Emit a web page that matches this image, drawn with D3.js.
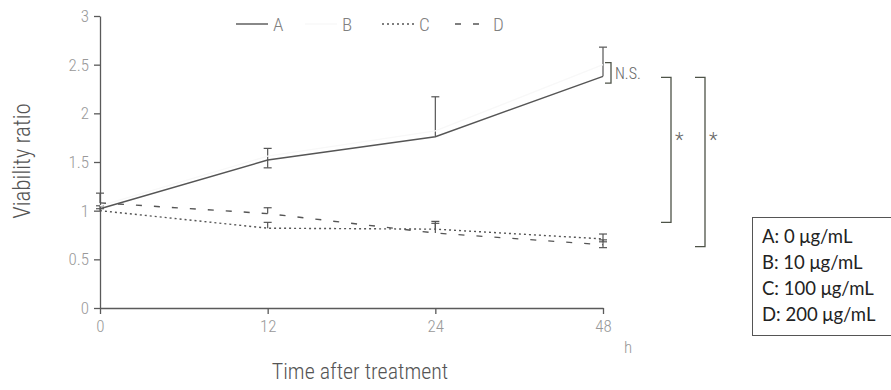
<!DOCTYPE html>
<html>
<head>
<meta charset="utf-8">
<script src="https://cdn.jsdelivr.net/npm/d3@7"></script>
<style>
  body { margin: 0; background: #fff; }
  svg { display: block; }
</style>
</head>
<body>
<div id="chart"></div>
<script>
// Time points (h) and y ticks
const timePoints = ["0", "12", "24", "48"];
const yTicks = [0, 0.5, 1, 1.5, 2, 2.5, 3];

// Series values
const seriesNames = ["A", "B", "C", "D"];
const valuesA = [1.02, 1.52, 1.76, 2.38];
const valuesB = [1.05, 1.56, 1.82, 2.50];
const valuesC = [1.00, 0.82, 0.81, 0.71];
const valuesD = [1.08, 0.97, 0.77, 0.65];

// Error bars (upper / lower extent)
const errUpA = [0.03, 0.12, 0.41, 0.30];
const errDownA = [0, 0.08, 0, 0];
const errUpC = [0.02, 0.06, 0.08, 0.05];
const errDownC = [0, 0, 0, 0.03];
const errUpD = [0.10, 0.06, 0.10, 0.05];
const errDownD = [0, 0, 0, 0.03];

const concLabels = ["A: 0 \u03bcg/mL", "B: 10 \u03bcg/mL", "C: 100 \u03bcg/mL", "D: 200 \u03bcg/mL"];

// Significance brackets: [top value, bottom value, label]
const sigBrackets = [
    [2.52, 2.31, "N.S."],
    [2.37, 0.88, "*"],
    [2.37, 0.63, "*"]
];

const W = 891, H = 390;
const axisColor = "#5a5a5a";
const tickColor = "#999";
const narrow = "'Liberation Sans Narrow', 'Roboto Condensed', 'Liberation Sans', sans-serif";

const svg = d3.select("#chart").append("svg")
    .attr("width", W)
    .attr("height", H);

const x = d3.scalePoint().domain(timePoints).range([100, 603]);
const y = d3.scaleLinear().domain([0, 3]).range([308, 16]);

// Axes
const yAxis = svg.append("g")
    .attr("transform", "translate(100,0)")
    .call(d3.axisLeft(y).tickValues(yTicks).tickSize(6).tickSizeOuter(0).tickFormat(d => String(d)));
const xAxis = svg.append("g")
    .attr("transform", "translate(0,308)")
    .call(d3.axisBottom(x).tickSize(6).tickSizeOuter(0));

[yAxis, xAxis].forEach(g => {
    g.selectAll("path, line").attr("stroke", axisColor).attr("stroke-width", 1.3);
    g.selectAll("text")
        .attr("fill", tickColor)
        .style("font-family", narrow)
        .style("font-weight", 300)
        .style("font-size", "17px");
});
yAxis.selectAll("text").attr("x", -11);
xAxis.selectAll("text").attr("y", 12);

// Unit label
svg.append("text")
    .attr("x", 624).attr("y", 353)
    .attr("fill", tickColor)
    .style("font-family", narrow)
    .style("font-weight", 300)
    .style("font-size", "17px")
    .text("h");

// Axis titles
svg.append("text")
    .attr("transform", "translate(30,161) rotate(-90)")
    .attr("text-anchor", "middle")
    .attr("fill", "#555")
    .style("font-family", narrow)
    .style("font-weight", 300)
    .style("font-size", "23px")
    .text("Viability ratio");

svg.append("text")
    .attr("x", 360).attr("y", 379)
    .attr("text-anchor", "middle")
    .attr("fill", "#555")
    .style("font-family", narrow)
    .style("font-weight", 300)
    .style("font-size", "22px")
    .text("Time after treatment");

// Series styles
const series = [
    { name: "A", values: valuesA, up: errUpA, down: errDownA, stroke: "#555", dash: null },
    { name: "B", values: valuesB, up: null, down: null, stroke: "#f8f8f8", dash: null },
    { name: "C", values: valuesC, up: errUpC, down: errDownC, stroke: "#555", dash: "2,3" },
    { name: "D", values: valuesD, up: errUpD, down: errDownD, stroke: "#555", dash: "6,12" }
];

const line = d3.line()
    .x((d, i) => x(timePoints[i]))
    .y(d => y(d));

// Error bars
series.forEach(s => {
    if (!s.up) return;
    const g = svg.append("g");
    s.values.forEach((v, i) => {
        const cx = x(timePoints[i]);
        const top = v + s.up[i];
        const bot = v - s.down[i];
        g.append("line")
            .attr("x1", cx).attr("x2", cx)
            .attr("y1", y(top)).attr("y2", y(bot))
            .attr("stroke", "#555").attr("stroke-width", 1.2);
        g.append("line")
            .attr("x1", cx - 4).attr("x2", cx + 4)
            .attr("y1", y(top)).attr("y2", y(top))
            .attr("stroke", "#555").attr("stroke-width", 1.2);
        if (s.down[i] > 0) {
            g.append("line")
                .attr("x1", cx - 4).attr("x2", cx + 4)
                .attr("y1", y(bot)).attr("y2", y(bot))
                .attr("stroke", "#555").attr("stroke-width", 1.2);
        }
    });
});

// Lines
series.forEach(s => {
    svg.append("path")
        .datum(s.values)
        .attr("d", line)
        .attr("fill", "none")
        .attr("stroke", s.stroke)
        .attr("stroke-width", 1.4)
        .attr("stroke-dasharray", s.dash);
});

// Significance brackets
const bracketX = [611, 671, 705];
const bracketColor = "#4e5348";
sigBrackets.forEach((b, i) => {
    const bx = bracketX[i];
    const capW = i === 0 ? 6 : 10;
    svg.append("path")
        .attr("d", `M${bx - capW},${y(b[0])}H${bx}V${y(b[1])}H${bx - capW}`)
        .attr("fill", "none")
        .attr("stroke", bracketColor)
        .attr("stroke-width", 1.3);
    svg.append("text")
        .attr("x", bx + 4)
        .attr("y", i === 0 ? (y(b[0]) + y(b[1])) / 2 + 6 : 147)
        .attr("fill", "#666")
        .style("font-family", narrow)
        .style("font-weight", 300)
        .style("font-size", i === 0 ? "16px" : "20px")
        .text(b[2]);
});

// Top legend (line styles)
const legendX = [236, 305, 382, 455];
const legend = svg.append("g");
series.forEach((s, i) => {
    const lx = legendX[i];
    const len = i === 3 ? 26 : 32;
    legend.append("line")
        .attr("x1", lx).attr("x2", lx + len)
        .attr("y1", 24).attr("y2", 24)
        .attr("stroke", s.stroke)
        .attr("stroke-width", 1.4)
        .attr("stroke-dasharray", s.dash);
    legend.append("text")
        .attr("x", lx + len + (i === 3 ? 12 : 5))
        .attr("y", 31)
        .attr("fill", "#808080")
        .style("font-family", narrow)
        .style("font-weight", 300)
        .style("font-size", "19px")
        .text(s.name);
});

// Concentration box
const box = svg.append("g");
box.append("rect")
    .attr("x", 752.5).attr("y", 217.5)
    .attr("width", 150).attr("height", 118)
    .attr("fill", "#fff")
    .attr("stroke", "#555")
    .attr("stroke-width", 1);
concLabels.forEach((t, i) => {
    box.append("text")
        .attr("x", 762)
        .attr("y", 243 + i * 26)
        .attr("fill", "#222")
        .style("font-family", "Lato, 'Open Sans', sans-serif")
        .style("font-size", "18.5px")
        .text(t);
});
</script>
</body>
</html>
